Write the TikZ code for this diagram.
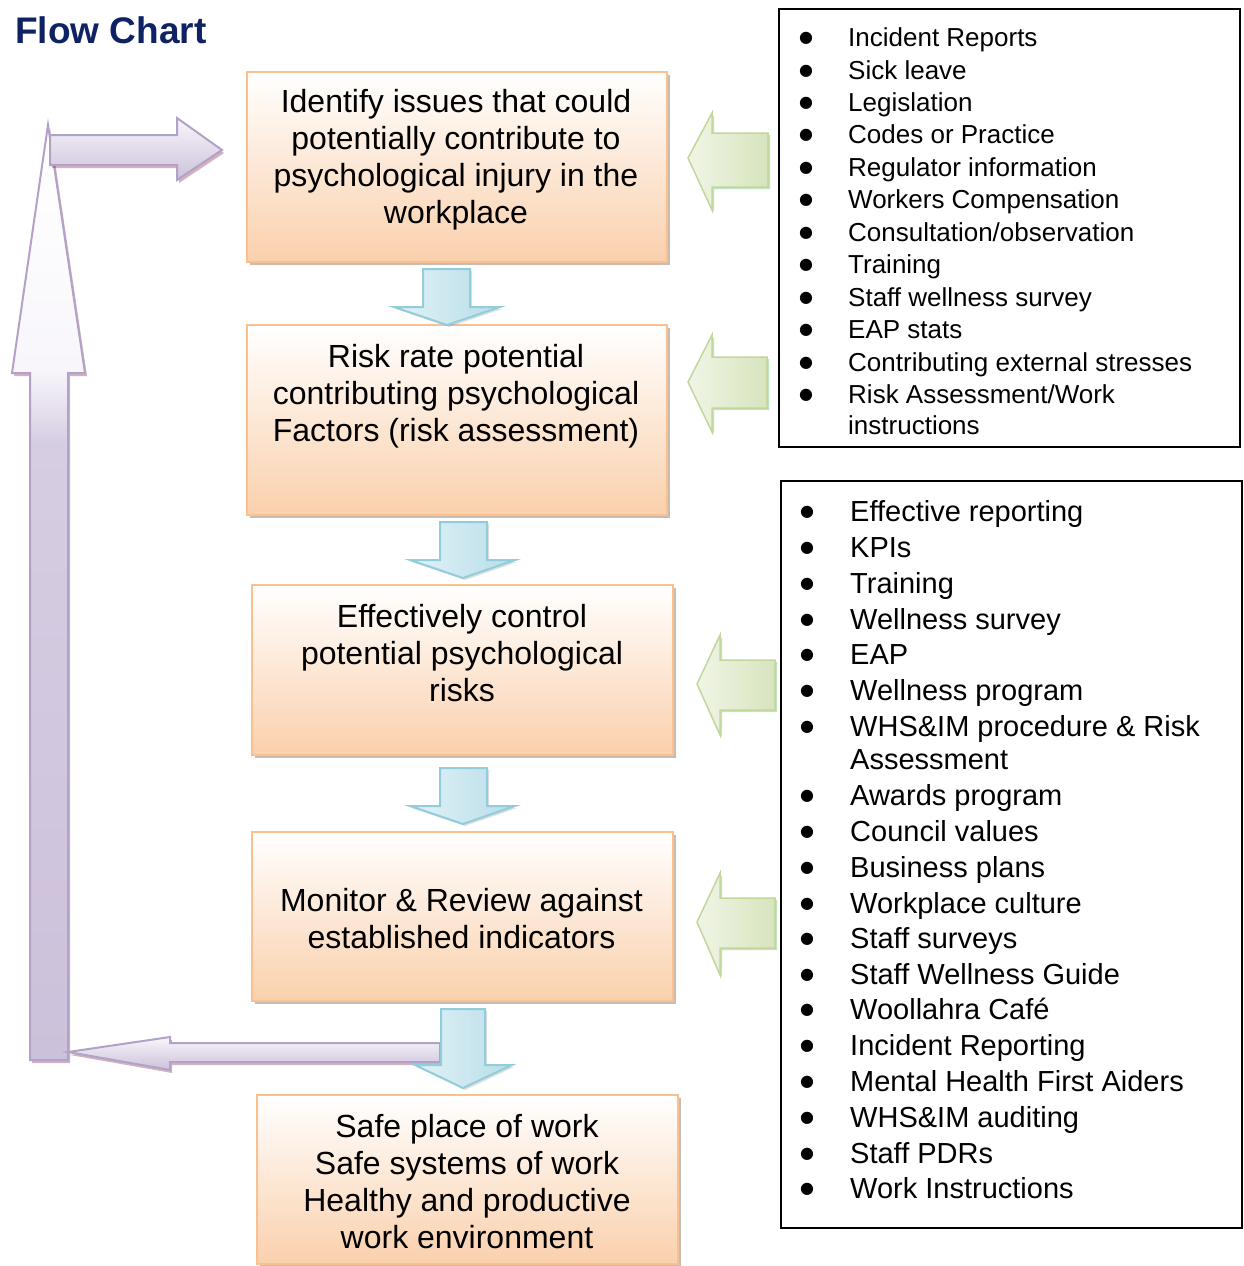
\documentclass[tikz,border=0pt]{standalone}
\usepackage{fontspec}
\setmainfont{Liberation Sans}
\newfontfamily\bulletfont{DejaVu Sans}
\usetikzlibrary{shadows}
\definecolor{navy}{RGB}{14,34,100}
\definecolor{boxedge}{RGB}{250,192,144}
\definecolor{boxfill}{RGB}{250,208,172}
\definecolor{blueedge}{RGB}{146,205,220}
\definecolor{bluelight}{RGB}{226,242,247}
\definecolor{bluedark}{RGB}{183,221,232}
\definecolor{greenedge}{RGB}{195,214,155}
\definecolor{greenlight}{RGB}{240,245,230}
\definecolor{greendark}{RGB}{215,228,189}
\definecolor{purpleedge}{RGB}{179,162,199}
\definecolor{purplelight}{RGB}{248,246,251}
\definecolor{purplemid}{RGB}{214,205,226}
\definecolor{purpledark}{RGB}{204,193,218}
\pgfdeclareverticalshading{purplevert}{100bp}{color(0bp)=(purpledark); color(25bp)=(purpledark);
  color(58bp)=(purplemid); color(62bp)=(purplelight); color(75bp)=(white); color(100bp)=(white)}
\tikzset{
  stepbox/.style={draw=boxedge, line width=1.5pt, top color=white, bottom color=boxfill,
    inner sep=0pt, drop shadow={shadow xshift=3pt, shadow yshift=-3pt, fill=black!50!brown, opacity=.35}},
  steptext/.style={align=center, font=\fontsize{32}{37}\selectfont, inner sep=0pt},
  bluearrow/.style={draw=blueedge, line width=2pt, left color=bluelight, right color=bluedark,
    drop shadow={shadow xshift=2pt, shadow yshift=-2pt, opacity=.25}},
  greenarrow/.style={draw=greenedge, line width=1.5pt, left color=greenlight, right color=greendark,
    drop shadow={shadow xshift=2pt, shadow yshift=-2pt, fill=black!40!green, opacity=.25}},
  purplearrow/.style={draw=purpleedge, line width=2pt,
    drop shadow={shadow xshift=2pt, shadow yshift=-3pt, fill=black!40!purple, opacity=.3}},
  listbox/.style={draw=black, line width=1.5pt, inner sep=0pt},
  itemA/.style={anchor=base west, inner sep=0pt, font=\fontsize{26}{31}\selectfont},
  itemB/.style={anchor=base west, inner sep=0pt, font=\fontsize{29}{33}\selectfont},
  bul/.style={anchor=center, inner sep=0pt, font=\bulletfont\fontsize{16}{18}\selectfont},
}
\begin{document}
\begin{tikzpicture}[x=1pt,y=-1pt]
\useasboundingbox[fill=white] (0,0) rectangle (1243,1266);

% title
\node[anchor=west, inner sep=0pt, font=\fontsize{37}{40}\selectfont\bfseries, text=navy] (title) at (15,30) {Flow Chart};

% purple feedback arrows
\path[purplearrow, shading=purplevert]
  (30,1060) -- (30,373) -- (12,373) -- (48,125) -- (85,373) -- (68,373) -- (68,1060) -- cycle;
\path[purplearrow, top color=purplelight, bottom color=purpledark]
  (50,135) -- (177,135) -- (177,118) -- (222,150) -- (177,180) -- (177,165) -- (50,165) -- cycle;
\path[purplearrow, top color=purplelight, bottom color=purpledark]
  (440,1043) -- (170,1043) -- (170,1037) -- (68,1052) -- (170,1070) -- (170,1062) -- (440,1062) -- cycle;

% step boxes
\node[stepbox, minimum width=420pt, minimum height=190pt] (b1) at (457,167) {};
\node[stepbox, minimum width=420pt, minimum height=190pt] (b2) at (457,420) {};
\node[stepbox, minimum width=421pt, minimum height=170pt] (b3) at (462.5,670) {};
\node[stepbox, minimum width=421pt, minimum height=169pt] (b4) at (462.5,916.5) {};
\node[stepbox, minimum width=421pt, minimum height=169pt] (b5) at (467.5,1179.5) {};

\node[steptext] (t1) at (456,160) {Identify issues that could\\potentially contribute to\\psychological injury in the\\workplace};
\node[steptext] (t2) at (456,396) {Risk rate potential\\contributing psychological\\Factors (risk assessment)};
\node[steptext] (t3) at (462,653) {Effectively control\\potential psychological\\risks};
\node[steptext] (t4) at (461.5,919) {Monitor \& Review against\\established indicators};
\node[steptext] (t5) at (467,1182) {Safe place of work\\Safe systems of work\\Healthy and productive\\work environment};

% blue down arrows
\path[bluearrow] (423,269) -- (470,269) -- (470,307) -- (500,307) -- (447,325) -- (394,307) -- (423,307) -- cycle;
\path[bluearrow] (440,522) -- (487,522) -- (487,560) -- (515,560) -- (463,578) -- (410,560) -- (440,560) -- cycle;
\path[bluearrow] (440,768) -- (487,768) -- (487,806) -- (515,806) -- (463,824) -- (410,806) -- (440,806) -- cycle;
\path[bluearrow] (441,1009) -- (485,1009) -- (485,1065) -- (512,1065) -- (463,1088) -- (415,1065) -- (441,1065) -- cycle;

% green left arrows
\path[greenarrow] (768,133) -- (712,133) -- (712,113) -- (688,158) -- (712,210) -- (712,187) -- (768,187) -- cycle;
\path[greenarrow] (767,357) -- (712,357) -- (712,335) -- (688,382) -- (712,432) -- (712,408) -- (767,408) -- cycle;
\path[greenarrow] (775,660) -- (720,660) -- (720,635) -- (697,684) -- (720,735) -- (720,710) -- (775,710) -- cycle;
\path[greenarrow] (775,898) -- (720,898) -- (720,873) -- (697,922) -- (720,975) -- (720,948) -- (775,948) -- cycle;

% list boxes
\node[listbox, minimum width=461pt, minimum height=438pt] (L1) at (1009.5,228) {};
\node[listbox, minimum width=461pt, minimum height=747pt] (L2) at (1011.5,854.5) {};

% list 1
\foreach \y/\t [count=\i] in {37/Incident Reports, 70/Sick leave, 102/Legislation, 134/Codes or Practice,
  167/Regulator information, 199/Workers Compensation, 232/Consultation\slash observation, 264/Training,
  297/Staff wellness survey, 329/EAP stats, 362/Contributing external stresses, 394/Risk Assessment\slash Work}
{
  \node[itemA] (a\i) at (848,\y+9.4) {\t};
  \node[bul] (ab\i) at (806,\y+1.5) {●};
}
\node[itemA] (a13) at (848,425+9.4) {instructions};

% list 2
\foreach \y/\t [count=\i] in {511/Effective reporting, 547/KPIs, 583/Training, 619/Wellness survey, 654/EAP,
  690/Wellness program, 726/WHS\&IM procedure \& Risk, 795/Awards program, 831/Council values,
  867/Business plans, 903/Workplace culture, 938/Staff surveys, 974/Staff Wellness Guide,
  1009/Woollahra Café, 1045/Incident Reporting, 1081/Mental Health First Aiders, 1117/WHS\&IM auditing,
  1153/Staff PDRs, 1188/Work Instructions}
{
  \node[itemB] (c\i) at (850,\y+10.4) {\t};
  \node[bul] (cb\i) at (807,\y+1.5) {●};
}
\node[itemB] (c20) at (850,759+10.4) {Assessment};
\end{tikzpicture}
\end{document}
